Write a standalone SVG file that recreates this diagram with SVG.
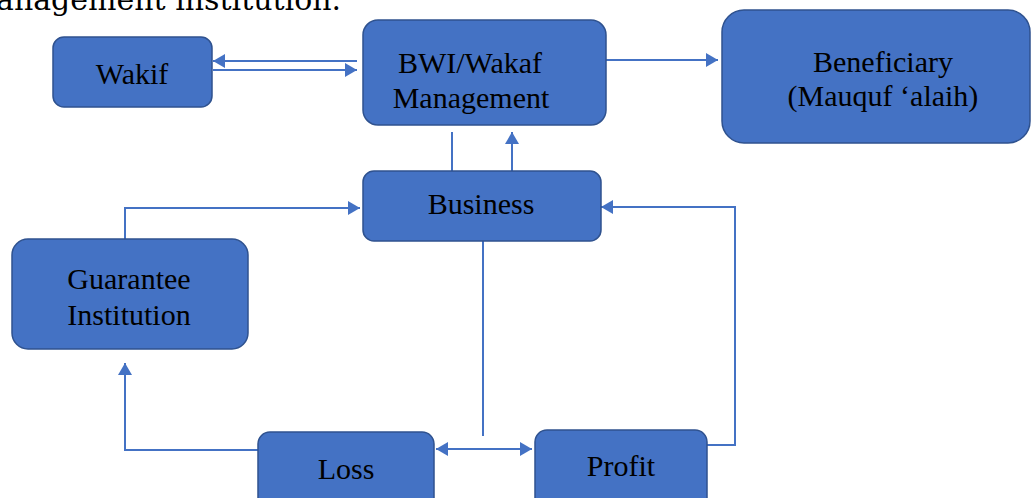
<svg xmlns="http://www.w3.org/2000/svg" width="1031" height="498" viewBox="0 0 1031 498">
<defs>
<style>
.box{fill:#4472C4;stroke:#2F528F;stroke-width:1.5}
.lbl{font-size:30px;fill:#000;text-anchor:middle}
.con{fill:none;stroke:#4472C4;stroke-width:2}
.hdr{font-size:30px;fill:#000}
</style>
<marker id="arr" viewBox="0 0 12 14" refX="12" refY="7" markerWidth="12" markerHeight="14" orient="auto-start-reverse" markerUnits="userSpaceOnUse">
<path d="M0,0 L12,7 L0,14 z" fill="#4472C4"/>
</marker>
</defs>
<rect width="1031" height="498" fill="#fff"/>
<text class="hdr" x="-4" y="10" font-family="DejaVu Serif, serif">anagement institution.</text>
<g id="connectors">
<path class="con" d="M357,61 H213" marker-end="url(#arr)"/>
<path class="con" d="M213,70 H357" marker-end="url(#arr)"/>
<path class="con" d="M606,60 H718" marker-end="url(#arr)"/>
<path class="con" d="M452,132 V171"/>
<path class="con" d="M512,171 V132" marker-end="url(#arr)"/>
<path class="con" d="M125,239 V208 H360" marker-end="url(#arr)"/>
<path class="con" d="M483,241 V436"/>
<path class="con" d="M436,449 H532" marker-start="url(#arr)" marker-end="url(#arr)"/>
<path class="con" d="M258,450 H125 V363" marker-end="url(#arr)"/>
<path class="con" d="M707,445 H735 V207 H601" marker-end="url(#arr)"/>
</g>
<g font-family="Liberation Serif, DejaVu Serif, serif">
<g id="wakif">
<rect class="box" x="53" y="37" width="159" height="70" rx="11"/>
<text class="lbl" x="132" y="84">Wakif</text>
</g>
<g id="bwi">
<rect class="box" x="363" y="20" width="243" height="105" rx="15"/>
<text class="lbl" x="470" y="73">BWI/Wakaf</text>
<text class="lbl" x="471" y="108">Management</text>
</g>
<g id="beneficiary">
<rect class="box" x="722" y="10" width="308" height="133" rx="22"/>
<text class="lbl" x="883" y="72">Beneficiary</text>
<text class="lbl" x="883" y="106">(Mauquf ‘alaih)</text>
</g>
<g id="business">
<rect class="box" x="363" y="171" width="238" height="70" rx="11"/>
<text class="lbl" x="481" y="214">Business</text>
</g>
<g id="guarantee">
<rect class="box" x="12" y="239" width="236" height="110" rx="16"/>
<text class="lbl" x="129" y="289">Guarantee</text>
<text class="lbl" x="129" y="325">Institution</text>
</g>
<g id="loss">
<rect class="box" x="258" y="432" width="176" height="80" rx="12"/>
<text class="lbl" x="346" y="479">Loss</text>
</g>
<g id="profit">
<rect class="box" x="535" y="430" width="172" height="80" rx="12"/>
<text class="lbl" x="621" y="476">Profit</text>
</g>
</g>
</svg>
